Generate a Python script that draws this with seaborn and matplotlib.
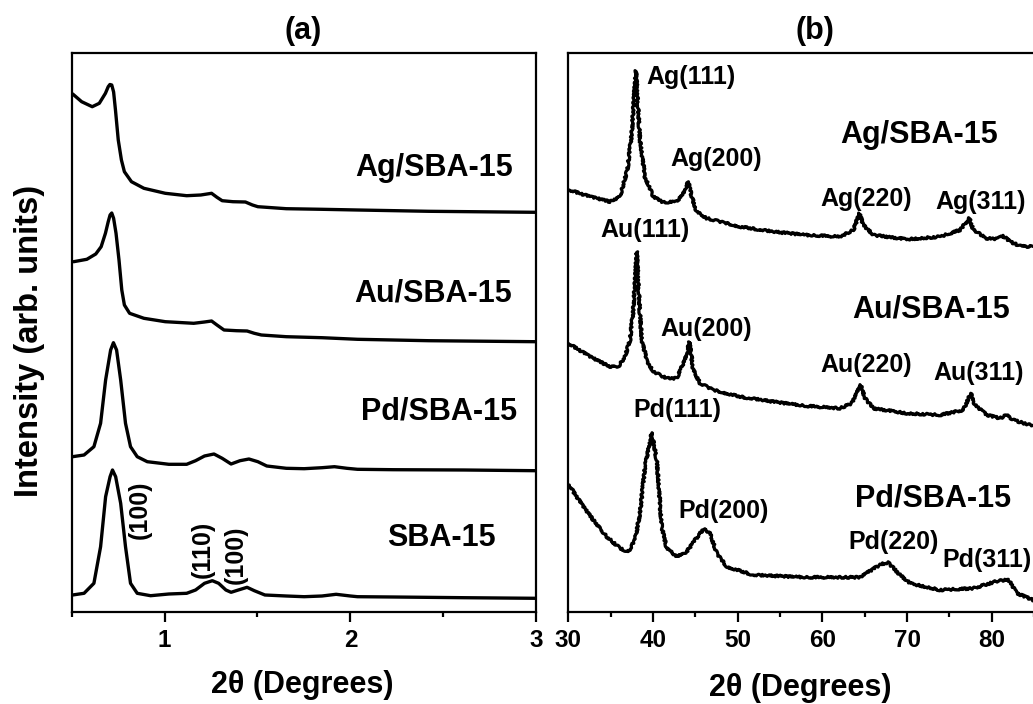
import matplotlib
matplotlib.use("Agg")
import numpy as np
import pandas as pd
import seaborn as sns
import matplotlib.pyplot as plt
from matplotlib.ticker import FixedLocator

# ---------------- Panel (a): low-angle XRD ----------------
a_sba_x = [0.505, 0.567, 0.620, 0.656, 0.683, 0.707, 0.720, 0.737, 0.764, 0.790, 0.817, 0.853,
           0.925, 1.023, 1.119, 1.167, 1.215, 1.257, 1.291, 1.330, 1.358, 1.397,
           1.444, 1.483, 1.540, 1.655, 1.751, 1.847, 1.923, 2.000, 2.038, 2.230, 2.613, 2.996]
a_sba_y = [17, 18.7, 28.7, 65.3, 115.3, 135.3, 142, 135.3, 108.7, 65.3, 28.7, 18.7,
           16.3, 18, 18.7, 22, 28.7, 31.3, 28.7, 22, 19.7, 22,
           24.7, 21.3, 17, 16, 15.3, 16, 17.7, 16, 15.3, 15, 14.3, 13.7]

a_pd_x = [0.505, 0.567, 0.620, 0.656, 0.683, 0.710, 0.725, 0.742, 0.764, 0.790, 0.817, 0.853,
          0.907, 0.979, 1.023, 1.119, 1.167, 1.215, 1.266, 1.310, 1.358, 1.406, 1.454,
          1.502, 1.550, 1.655, 1.751, 1.847, 1.914, 1.981, 2.038, 2.230, 2.613, 2.996]
a_pd_y = [155.3, 157, 165.3, 188.7, 232, 262, 269.3, 262, 232, 188.7, 165.3, 155.3,
          150.3, 148.7, 147.7, 147.7, 151.3, 156, 158, 153.7, 148, 151.3, 153,
          150.3, 146, 143.7, 143.3, 144.3, 145.3, 143.7, 142.7, 142.3, 142, 141.3]

a_au_x = [0.511, 0.582, 0.630, 0.659, 0.682, 0.697, 0.707, 0.716, 0.726, 0.739, 0.755, 0.770,
          0.784, 0.812, 0.889, 1.004, 1.157, 1.215, 1.253, 1.282, 1.320, 1.387, 1.444, 1.483,
          1.521, 1.655, 1.847, 2.038, 2.421, 2.996]
a_au_y = [350.3, 352.7, 358, 365.3, 378.7, 390.3, 397, 399, 393.7, 378.7, 352, 322,
          307, 298.7, 293.7, 290.3, 288.7, 290, 291, 287, 282, 281.3, 281, 278.7,
          277, 275.3, 274.3, 272.7, 271.3, 270.3]

a_ag_x = [0.506, 0.554, 0.611, 0.649, 0.682, 0.697, 0.706, 0.716, 0.726, 0.736, 0.751, 0.768,
          0.784, 0.822, 0.889, 1.004, 1.119, 1.195, 1.253, 1.282, 1.310, 1.368, 1.435, 1.473,
          1.502, 1.655, 1.847, 2.038, 2.421, 2.996]
a_ag_y = [518, 510.3, 505.3, 508.7, 518.7, 525.3, 527.5, 527, 520, 502, 472, 452,
          440.3, 430.3, 423.7, 418.7, 416.3, 417, 418.7, 414.7, 411.3, 410.3, 410, 407,
          405.3, 403.3, 402.7, 402, 400.7, 399.7]

# ---------------- Panel (b): wide-angle XRD ----------------
b_ag_x = [30.12, 32.56, 34.92, 36.1, 36.97, 37.49, 37.79, 37.99, 38.19, 38.46, 39.05, 40.04,
          41.22, 42.8, 43.58, 44.17, 44.57, 45.16, 46.34, 50.27, 54.2, 58.15, 62.07, 63.65,
          64.36, 64.83, 66.01, 69.95, 73.88, 76.24, 77.34, 77.82, 79.4, 80.58, 81.36, 82.15,
          83.33, 84.86]
b_ag_y = [422, 415.3, 410.3, 415.3, 442, 478.7, 518.7, 541.3, 512, 472, 435.3, 415.3,
          409.7, 410.3, 418.7, 430.3, 415.3, 400.3, 393.7, 385.3, 380.3, 377, 375.3, 382,
          398.7, 387, 377, 372.7, 375.3, 382, 393.7, 382, 373.7, 373, 376, 370.3,
          366, 365.3]

b_au_x = [30.0, 32.56, 34.92, 35.9, 36.69, 37.28, 37.65, 37.95, 38.08, 38.2, 38.45, 38.67,
          39.26, 40.04, 41.62, 42.8, 43.58, 44.0, 44.29, 44.5, 44.76, 45.55, 47.12, 50.27,
          54.2, 58.15, 62.07, 63.46, 64.52, 65.03, 66.01, 69.95, 73.88, 76.63, 77.51, 78.01,
          79.4, 80.97, 81.76, 82.54, 84.86]
b_au_y = [268.7, 255.3, 245.3, 245.3, 255.3, 272, 300, 340, 360.3, 340, 300, 272,
          252, 240.3, 233.7, 233.7, 248.7, 258, 270, 258, 242, 228.7, 222, 215.3,
          210.3, 206, 203.7, 208.7, 227, 213.7, 203.7, 198.7, 197, 202, 218.7, 207,
          197, 193.7, 197, 192, 186]

b_pd_x = [30.12, 30.59, 31.77, 32.95, 34.53, 36.1, 37.08, 37.87, 38.46, 39.05, 39.85, 40.44,
          41.03, 41.62, 42.8, 43.98, 44.96, 46.02, 46.73, 47.52, 48.7, 51.84, 58.15, 64.44,
          66.41, 67.0, 67.78, 68.96, 70.34, 73.88, 77.82, 80.38, 81.95, 82.94, 84.86]
b_pd_y = [127, 120.3, 105.3, 92, 75.3, 63.7, 60.3, 72, 98.7, 145.3, 179.3, 152,
          85.3, 63.7, 55.3, 60.3, 72, 83.7, 78.7, 58.7, 45.3, 37, 34.7, 34.7,
          45.3, 48, 49.3, 38.7, 28.7, 22, 23.7, 30.3, 32.7, 18.7, 12]

# Text labels
a_names = ["Ag/SBA-15", "Au/SBA-15", "Pd/SBA-15", "SBA-15"]
a_name_x = [2.449, 2.444, 2.479, 2.49]
a_name_y = [444, 319, 200.3, 74]
a_hkl = ["(100)", "(110)", "(100)"]
a_hkl_x = [0.866, 1.203, 1.385]
a_hkl_y = [102, 63, 57]

b_names = ["Ag/SBA-15", "Au/SBA-15", "Pd/SBA-15"]
b_name_x = [71.4, 72.8, 73.06]
b_name_y = [477, 302.7, 113.7]
b_peaks = ["Ag(111)", "Ag(200)", "Ag(220)", "Ag(311)",
           "Au(111)", "Au(200)", "Au(220)", "Au(311)",
           "Pd(111)", "Pd(200)", "Pd(220)", "Pd(311)"]
b_peak_x = [44.5, 47.43, 65.13, 78.72, 39.02, 46.3, 65.13, 78.49, 42.9, 48.38, 68.44, 79.4]
b_peak_y = [535.3, 452.7, 412.7, 410.3, 382, 282.7, 247, 238.7, 202, 101.3, 70.3, 52]

a_ticks_major = [1, 2, 3]
a_ticks_minor = [0.5, 1.5, 2.5]
b_ticks_major = [30, 40, 50, 60, 70, 80]
b_ticks_minor = [35, 45, 55, 65, 75, 85]

# ---------------- Figure ----------------
sns.set_theme(style="ticks")
plt.rcParams['font.family'] = ['Liberation Sans', 'DejaVu Sans']
plt.rcParams['font.weight'] = 'bold'
plt.rcParams['text.color'] = 'black'
plt.rcParams['axes.labelcolor'] = 'black'
plt.rcParams['xtick.color'] = 'black'
plt.rcParams['axes.edgecolor'] = 'black'

W, H = 1033, 704
fig = plt.figure(figsize=(W / 100, H / 100), dpi=100)
ax_a = fig.add_axes([71.6 / W, 92 / H, 464.7 / W, 559 / H])
ax_b = fig.add_axes([568.3 / W, 92 / H, 491.3 / W, 559 / H])

for xs, ys in [(a_ag_x, a_ag_y), (a_au_x, a_au_y), (a_pd_x, a_pd_y), (a_sba_x, a_sba_y)]:
    df = pd.DataFrame({"x": xs, "y": ys})
    sns.lineplot(data=df, x="x", y="y", ax=ax_a, color="black", lw=2.4,
                 sort=False, estimator=None)
for ln in ax_a.get_lines():
    ln.set_solid_joinstyle("round")

for xs, ys in [(b_ag_x, b_ag_y), (b_au_x, b_au_y), (b_pd_x, b_pd_y)]:
    df = pd.DataFrame({"x": xs, "y": ys})
    sns.lineplot(data=df, x="x", y="y", ax=ax_b, color="black", lw=2.3,
                 sort=False, estimator=None)
for ln in ax_b.get_lines():
    ln.set_sketch_params(scale=1.0, length=3, randomness=4)

ax_a.set_xlim(0.5, 3.0)
ax_b.set_xlim(30, 88)
for ax in (ax_a, ax_b):
    ax.set_ylim(0, 559)
    ax.set_yticks([])
    ax.set_xlabel("")
    ax.set_ylabel("")
    for sp in ax.spines.values():
        sp.set_visible(True)
        sp.set_linewidth(1.6)
        sp.set_color("black")
    ax.tick_params(axis="x", which="major", direction="out", length=7.5, width=1.6,
                   labelsize=17.5, pad=5, colors="black")
    ax.tick_params(axis="x", which="minor", direction="out", length=3.5, width=1.6)
    ax.tick_params(top=False, right=False)

ax_a.xaxis.set_major_locator(FixedLocator(a_ticks_major))
ax_a.xaxis.set_minor_locator(FixedLocator(a_ticks_minor))
ax_b.xaxis.set_major_locator(FixedLocator(b_ticks_major))
ax_b.xaxis.set_minor_locator(FixedLocator(b_ticks_minor))
ax_a.set_xticklabels([str(t) for t in a_ticks_major], fontweight="bold")
ax_b.set_xticklabels([str(t) for t in b_ticks_major], fontweight="bold")

for t, x, y in zip(a_names, a_name_x, a_name_y):
    ax_a.text(x, y, t, fontsize=22, fontweight="bold", ha="center", va="center")
for t, x, y in zip(a_hkl, a_hkl_x, a_hkl_y):
    ax_a.text(x, y, t, fontsize=18, fontweight="bold", ha="center", va="center", rotation=90)

for t, x, y in zip(b_names, b_name_x, b_name_y):
    ax_b.text(x, y, t, fontsize=22, fontweight="bold", ha="center", va="center")
for t, x, y in zip(b_peaks, b_peak_x, b_peak_y):
    ax_b.text(x, y, t, fontsize=18, fontweight="bold", ha="center", va="center")

fig.text(303.6 / W, 1 - 31 / H, "(a)", fontsize=22, fontweight="bold", ha="center", va="center")
fig.text(815 / W, 1 - 31 / H, "(b)", fontsize=22, fontweight="bold", ha="center", va="center")
fig.text(302.7 / W, 1 - 685 / H, "2θ (Degrees)", fontsize=22, fontweight="bold",
         ha="center", va="center")
fig.text(800 / W, 1 - 688 / H, "2θ (Degrees)", fontsize=22, fontweight="bold",
         ha="center", va="center")
fig.text(30 / W, 1 - 341 / H, "Intensity (arb. units)", fontsize=23.5, fontweight="bold",
         ha="center", va="center", rotation=90)

fig.savefig("out.png", dpi=100)
